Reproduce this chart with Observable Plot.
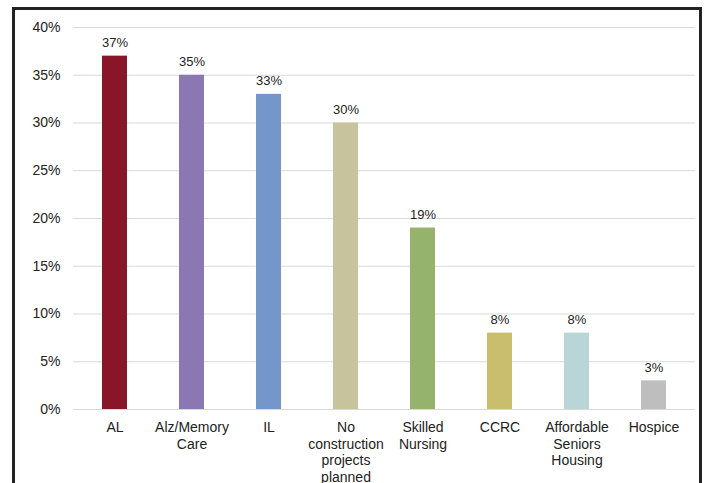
<!DOCTYPE html>
<html>
<head>
<meta charset="utf-8">
<script src="https://cdn.jsdelivr.net/npm/d3@7"></script>
<script src="https://cdn.jsdelivr.net/npm/@observablehq/plot@0.6"></script>
<style>
  html, body { margin: 0; padding: 0; background: #fff; }
  #wrap { position: relative; width: 704px; height: 483px; overflow: hidden; }
  #frame { position: absolute; left: 12px; top: 7px; width: 690px; height: 500px; border: 3px solid #222; box-sizing: border-box; pointer-events: none; }
</style>
</head>
<body>
<div id="wrap"><div id="frame"></div></div>
<script>
const categories = ["AL", "Alz/Memory\nCare", "IL", "No\nconstruction\nprojects\nplanned", "Skilled\nNursing", "CCRC", "Affordable\nSeniors\nHousing", "Hospice"];
const values = [37, 35, 33, 30, 19, 8, 8, 3];
const colors = ["#891628", "#8B78B2", "#7596C9", "#C7C49D", "#96B36E", "#C9BE6E", "#BAD5D7", "#BEBEBE"];
const yTicks = [0, 5, 10, 15, 20, 25, 30, 35, 40];

const data = categories.map((c, i) => ({category: c, value: values[i], color: colors[i]}));

const chart = Plot.plot({
  width: 704,
  height: 483,
  marginLeft: 73,
  marginRight: 9,
  marginTop: 27,
  marginBottom: 74,
  style: {fontFamily: "Liberation Sans, Arial, sans-serif", background: "transparent"},
  x: {domain: categories, paddingInner: 0.68, paddingOuter: 0.34, align: 0.5},
  y: {domain: [0, 40]},
  marks: [
    Plot.gridY(yTicks, {stroke: "#d9d9d9", strokeOpacity: 1, strokeWidth: 1}),
    Plot.barY(data, {x: "category", y: "value", fill: "color"}),
    Plot.text(data, {x: "category", y: "value", text: d => d.value + "%", lineAnchor: "bottom", dy: -9, fontSize: 13, fill: "#222"}),
    Plot.axisY(yTicks, {tickSize: 0, tickPadding: 13, tickFormat: d => d + "%", fontSize: 14, fill: "#222", label: null}),
    Plot.axisX({tickSize: 0, tickPadding: 11, fontSize: 14, lineHeight: 1.18, fill: "#222", label: null})
  ]
});
document.getElementById("wrap").insertBefore(chart, document.getElementById("frame"));
chart.style.position = "absolute";
chart.style.left = "0px";
chart.style.top = "0px";
</script>
</body>
</html>
